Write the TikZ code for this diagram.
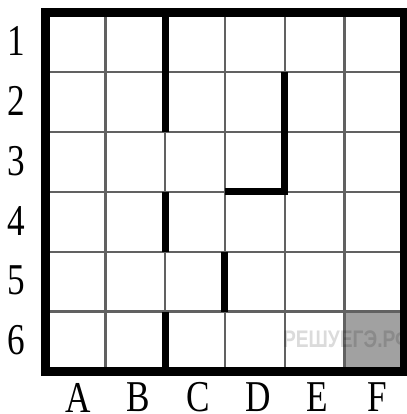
\documentclass[tikz,border=0pt]{standalone}
\usepackage{fontspec}
\setmainfont{Liberation Serif}
\newfontfamily\wmfont{Liberation Sans}

\begin{document}
\begin{tikzpicture}[
  x=1pt, y=-1pt,
  gridline/.style={draw=black!62, line width=2.4pt},
  wall/.style={draw=black, line width=7pt, line join=miter},
  border/.style={draw=black, line width=9pt},
  axislabel/.style={font=\fontsize{44}{44}\selectfont, inner sep=0pt, xscale=0.8, transform shape},
  watermark/.style={font=\wmfont\bfseries\fontsize{24}{24}\selectfont, text=black, opacity=0.14, inner sep=0pt, anchor=west, xscale=0.8, transform shape}
]
\useasboundingbox (0,0) rectangle (406,414);

\begin{scope}[shift={(45.5,12.5)}, x=59.8pt, y=-59.8pt]
  % target cell F6
  \fill[black!37] (5,5) rectangle (6,6);
  \foreach \i in {1,...,5} {
    \draw[gridline] (\i,0) -- (\i,6);
    \draw[gridline] (0,\i) -- (6,\i);
  }
  \node[watermark] (wm) at (3.97,5.46) {РЕШУЕГЭ.РФ};
  % walls
  \draw[wall] (2,0) -- (2,2);
  \draw[wall] (4,1) -- (4,3) -- (3,3);
  \draw[wall] (2,3) -- (2,4);
  \draw[wall] (3,4) -- (3,5);
  \draw[wall] (2,5) -- (2,6);
  \draw[border] (0,0) rectangle (6,6);
\end{scope}

\foreach \r in {1,...,6}
  \node[axislabel] (row\r) at (16, {12.5+59.8*(\r-0.5)-1}) {\r};
\foreach \c [count=\k] in {A,...,F}
  \node[axislabel] (col\c) at ({45.5+59.8*(\k-0.5)+3}, 397.5) {\c};

\end{tikzpicture}
\end{document}
